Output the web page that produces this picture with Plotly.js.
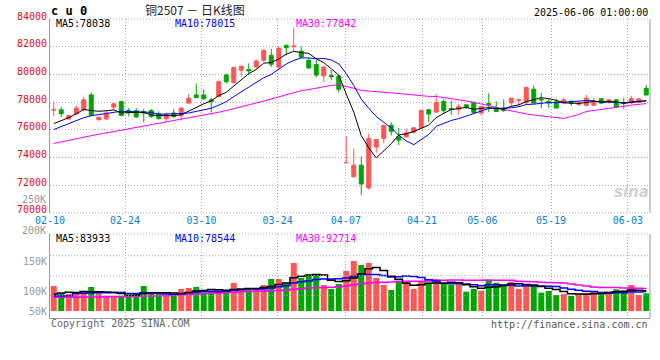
<!DOCTYPE html>
<html><head><meta charset="utf-8">
<script src="https://cdn.plot.ly/plotly-3.0.1.min.js"></script>
<style>html,body{margin:0;padding:0;background:#fff}#chart{width:660px;height:360px}</style>
</head><body><div id="chart"></div>
<script>
// ---------- data ----------
const dates = ['02-10','02-11','02-12','02-13','02-14','02-17','02-18','02-19','02-20','02-21',
 '02-24','02-25','02-26','02-27','02-28','03-03','03-04','03-05','03-06','03-07',
 '03-10','03-11','03-12','03-13','03-14','03-17','03-18','03-19','03-20','03-21',
 '03-24','03-25','03-26','03-27','03-28','03-31','04-01','04-02','04-03','04-07',
 '04-08','04-09','04-10','04-11','04-14','04-15','04-16','04-17','04-18','04-21',
 '04-22','04-23','04-24','04-25','04-28','04-29','04-30','05-06','05-07','05-08',
 '05-09','05-12','05-13','05-14','05-15','05-16','05-19','05-20','05-21','05-22',
 '05-23','05-26','05-27','05-28','05-29','05-30','06-03','06-04','06-05','06-06'];

const openP = [77430,77450,76786,77143,77450,78521,76736,76786,77643,78043,
 77400,77379,77307,77400,77164,76807,77214,77021,77929,78521,
 78521,78164,78400,79950,79400,80307,80357,80543,81021,81379,
 80543,82093,82000,81686,81021,80714,79900,79929,79879,73620,
 72614,73450,71807,74757,75379,76329,75500,75500,75829,76143,
 77450,77286,78043,77543,77500,77807,77971,77214,77900,77614,
 77571,77950,78129,77950,78936,78214,78043,78021,77929,78071,
 77843,77771,77771,78236,77986,78164,77950,77950,77986,79000];

const highP = [78043,77643,77093,77736,78357,78686,76971,77400,77971,78093,
 77571,77571,77500,77500,77329,77257,77500,77643,78593,79357,
 78929,78329,79521,80071,80543,80593,80786,81093,81807,81857,
 81971,82164,83400,82021,81186,81021,80543,80307,79950,75543,
 74643,74071,75736,75307,76379,76543,76143,76093,76214,77450,
 77500,78593,78214,78114,77857,77807,78043,77686,78643,78043,
 78214,78307,78271,79114,79186,78664,78214,78271,78343,78114,
 78093,78543,78329,78286,78214,78186,78307,78450,78236,79236];

const lowP = [76971,76929,76736,77093,77329,76971,76664,76736,77450,76971,
 76971,76857,76543,76857,76736,76614,76857,76664,77879,78286,
 78164,77257,78357,79357,79357,79829,79950,80429,80900,80543,
 80307,81379,81686,81143,80379,79786,79471,79593,78686,73600,
 72571,71307,71686,74357,75021,75593,74900,75429,75736,76071,
 76543,77214,77214,77093,77093,77500,77164,77043,77286,77286,
 77286,77686,77686,77879,77857,77571,77571,77521,77829,77736,
 77686,77700,77736,77857,77900,77557,77521,77879,77929,78471];

const closeP = [77450,77164,77021,77571,78164,77043,76900,77214,77879,77043,
 77257,76929,77214,76971,76807,77143,76971,77571,78286,78329,
 78236,78043,79471,79471,80500,80593,80257,80971,81736,80736,
 81900,81929,82043,81257,80471,79950,80543,79829,78929,73643,
 73450,72093,75379,75307,76307,75900,75257,75786,76143,77400,
 77143,77971,77379,77471,77686,77614,77257,77686,77807,77329,
 77400,78286,78164,79057,77929,78164,77929,77571,78164,77914,
 77950,78286,77986,77929,78164,77643,77900,78257,78236,78521];

const volume = [102500,72600,69700,72600,82000,98400,72600,62700,62700,62700,
 62700,69700,102500,69700,69700,62700,62700,90200,94300,98400,
 76700,79100,86100,86100,114800,86100,86100,90200,106600,131200,
 131200,116000,196800,136500,151700,147600,106600,90200,110700,164000,
 205000,188600,196800,135300,106600,86100,124200,118900,90200,120100,
 116000,131200,113600,106600,109500,79100,90200,83200,127100,116000,
 106600,120100,90200,110700,106600,75000,82000,65600,69700,61500,
 69700,75000,79100,75000,79100,89000,83200,106600,65600,72600];

// moving-average values before the full window is available
const ma5Lead  = [76450,76664,76879,77164];
const ma10Lead = [76021,76236,76450,76664,76879,77021,77093,77164,77236];
const ma30Lead = [75020,75140,75260,75370,75480,75580,75680,75780,75880,75980,
 76080,76180,76280,76370,76460,76550,76640,76730,76830,76930,
 77040,77150,77270,77390,77520,77650,77790,77930,78080];
const vma5Lead  = [70000,74000,77000,76000];
const vma10Lead = [61500,62000,63000,72000,73000,74000,74500,75000,75500];
const vma30Lead = [56000,56300,56600,56900,57200,57500,57800,58100,58400,58700,
 59000,60000,61000,62000,63000,64000,65000,66500,68000,69500,
 71000,72500,74000,75500,77000,78500,80000,81000,82000];

const priceMaLabels = ['MA5:78038','MA10:78015','MA30:77842'];
const volMaLabels   = ['MA5:83933','MA10:78544','MA30:92714'];
const xTickLabels = ['02-10','02-24','03-10','03-24','04-07','04-21','05-06','05-19','06-03'];
const priceTicks = [70000,72000,74000,76000,78000,80000,82000,84000];
const volTickText = ['50K','100K','150K'];

// ---------- helpers ----------
function sma(values, n, lead) {
  return values.map((v, i) => {
    if (i < n - 1) return lead[i];
    let s = 0; for (let j = i - n + 1; j <= i; j++) s += values[j];
    return s / n;
  });
}
const idx = dates.map((d, i) => i);
const RED = '#ff5555', GREEN = '#00a600';
const MONO = 'DejaVu Sans Mono, Liberation Mono, monospace';
const GRID = '#aaaaaa', AXC = '#999999', DOT = '1px,2px';
const px = x => (x - 50) / 600;
const py = y => (318 - y) / 299;

const traces = [
  {type:'candlestick', x:idx, open:openP, high:highP, low:lowP, close:closeP,
   xaxis:'x', yaxis:'y', whiskerwidth:0, hoverinfo:'skip',
   increasing:{line:{color:RED, width:1}, fillcolor:RED},
   decreasing:{line:{color:GREEN, width:1}, fillcolor:GREEN}},
  {type:'scatter', mode:'lines', x:idx, y:sma(closeP,30,ma30Lead), xaxis:'x', yaxis:'y',
   line:{color:'#ff00ff', width:1}, hoverinfo:'skip'},
  {type:'scatter', mode:'lines', x:idx, y:sma(closeP,10,ma10Lead), xaxis:'x', yaxis:'y',
   line:{color:'#0000ff', width:1}, hoverinfo:'skip'},
  {type:'scatter', mode:'lines', x:idx, y:sma(closeP,5,ma5Lead), xaxis:'x', yaxis:'y',
   line:{color:'#000000', width:1}, hoverinfo:'skip'},
  {type:'bar', x:idx, y:volume, xaxis:'x2', yaxis:'y2', width:0.8,
   marker:{color: closeP.map((c,i) => c >= openP[i] ? RED : GREEN), line:{width:0}}, hoverinfo:'skip'},
  {type:'scatter', mode:'lines', x:idx, y:sma(volume,30,vma30Lead), xaxis:'x2', yaxis:'y2',
   line:{color:'#ff00ff', width:1.5, shape:'hvh'}, hoverinfo:'skip'},
  {type:'scatter', mode:'lines', x:idx, y:sma(volume,10,vma10Lead), xaxis:'x2', yaxis:'y2',
   line:{color:'#0000ff', width:1.5, shape:'hvh'}, hoverinfo:'skip'},
  {type:'scatter', mode:'lines', x:idx, y:sma(volume,5,vma5Lead), xaxis:'x2', yaxis:'y2',
   line:{color:'#000000', width:1.5, shape:'hvh'}, hoverinfo:'skip'}
];

const xTickPos = [-0.5, 9.5, 19.7, 29.85, 38.95, 49.1, 57.15, 66.3, 76.55];

function ann(text, x, y, xanchor, color, size, extra) {
  return Object.assign({text:text, xref:'paper', yref:'paper', x:px(x), y:py(y),
    xanchor:xanchor, yanchor:'middle', showarrow:false, borderpad:0,
    font:{family:MONO, size:size, color:color}}, extra || {});
}

const annotations = [
  ann('c u 0', 50, 11.5, 'left', '#000', 11, {font:{family:MONO, size:12, color:'#000', weight:'bold'}}),
  ann('铜2507 － 日K线图', 195, 9.5, 'center', '#222', 12, {font:{family:'Noto Sans CJK SC', size:12, color:'#222'}}),
  ann('2025-06-06 01:00:00', 649, 12, 'right', '#000', 10),
  ann(priceMaLabels[0], 55, 24, 'left', '#000000', 10),
  ann(priceMaLabels[1], 174, 24, 'left', '#0000ff', 10),
  ann(priceMaLabels[2], 295, 24, 'left', '#ff00ff', 10),
  ann(volMaLabels[0], 55, 238.5, 'left', '#000000', 10),
  ann(volMaLabels[1], 174, 238.5, 'left', '#0000ff', 10),
  ann(volMaLabels[2], 295, 238.5, 'left', '#ff00ff', 10),
  ann('250K', 47, 199, 'right', '#999999', 10),
  ann('200K', 47, 230.5, 'right', '#999999', 10),
  ann('Copyright 2025 SINA.COM', 50, 323.5, 'left', '#666666', 10),
  ann('http://finance.sina.com.cn', 649, 324, 'right', '#555555', 10),
  ann('sina', 631, 192, 'center', '#d2d2d2', 15, {font:{family:'DejaVu Sans', size:15, color:'#d2d2d2', style:'italic', weight:'bold'}})
];

function hline(yPix, dash, color) {
  return {type:'line', xref:'paper', yref:'paper', x0:0, x1:1, y0:py(yPix), y1:py(yPix),
          line:{color:color || GRID, width:1, dash:dash}};
}
function vline(x0, yTop, yBot) {
  return {type:'line', xref:'paper', yref:'paper', x0:x0, x1:x0, y0:py(yTop), y1:py(yBot),
          line:{color:AXC, width:1}};
}
const shapes = [
  hline(19, DOT), hline(213, DOT), hline(234, DOT),
  vline(1, 19, 213), vline(1, 234, 318),
  {type:'line', xref:'paper', yref:'y2', x0:0, x1:1, y0:62730, y1:62730, line:{color:GRID, width:1, dash:DOT}},
  {type:'line', xref:'paper', yref:'y2', x0:0, x1:1, y0:144730, y1:144730, line:{color:GRID, width:1, dash:DOT}},
  {type:'line', xref:'paper', yref:'y2', x0:0, x1:1, y0:226730, y1:226730, line:{color:GRID, width:1, dash:DOT}}
];

const layout = {
  width:660, height:360, margin:{l:50, r:10, t:19, b:42},
  paper_bgcolor:'#ffffff', plot_bgcolor:'#ffffff', showlegend:false,
  boxgap:0.25, bargap:0.2,
  xaxis:{domain:[0,1], anchor:'y', range:[-0.5, 79.5], tickmode:'array', tickvals:xTickPos, ticktext:xTickLabels,
         showgrid:true, gridcolor:GRID, griddash:DOT, gridwidth:1, zeroline:false, showline:false, ticks:'',
         tickfont:{family:MONO, size:10, color:'#0a7fd0'}, rangeslider:{visible:false}, fixedrange:true},
  yaxis:{domain:[0.3512,1], anchor:'x', range:[70000,84000], tickmode:'array', tickvals:priceTicks,
         ticktext:priceTicks.map(String), showgrid:true, gridcolor:GRID, griddash:DOT, gridwidth:1,
         zeroline:false, showline:true, linecolor:AXC, linewidth:1, ticks:'', ticklabelshift:-3,
         tickfont:{family:MONO, size:10, color:'#dd1111'}, fixedrange:true},
  xaxis2:{domain:[0,1], anchor:'y2', matches:'x', range:[-0.5, 79.5], tickmode:'array', tickvals:xTickPos,
         showticklabels:false, showgrid:true, gridcolor:GRID, griddash:DOT, gridwidth:1, zeroline:false,
         showline:true, linecolor:AXC, linewidth:1, ticks:'', fixedrange:true},
  yaxis2:{domain:[0,0.2809], anchor:'x2', range:[-28700, 315700], tickmode:'array', tickvals:[0,82000,205000],
         ticktext:volTickText, showgrid:false, zeroline:false, showline:true, linecolor:AXC, linewidth:1, ticks:'',
         tickfont:{family:MONO, size:10, color:'#999999'}, fixedrange:true},
  shapes:shapes, annotations:annotations
};

Plotly.newPlot('chart', traces, layout, {staticPlot:true, displayModeBar:false});
</script></body></html>
